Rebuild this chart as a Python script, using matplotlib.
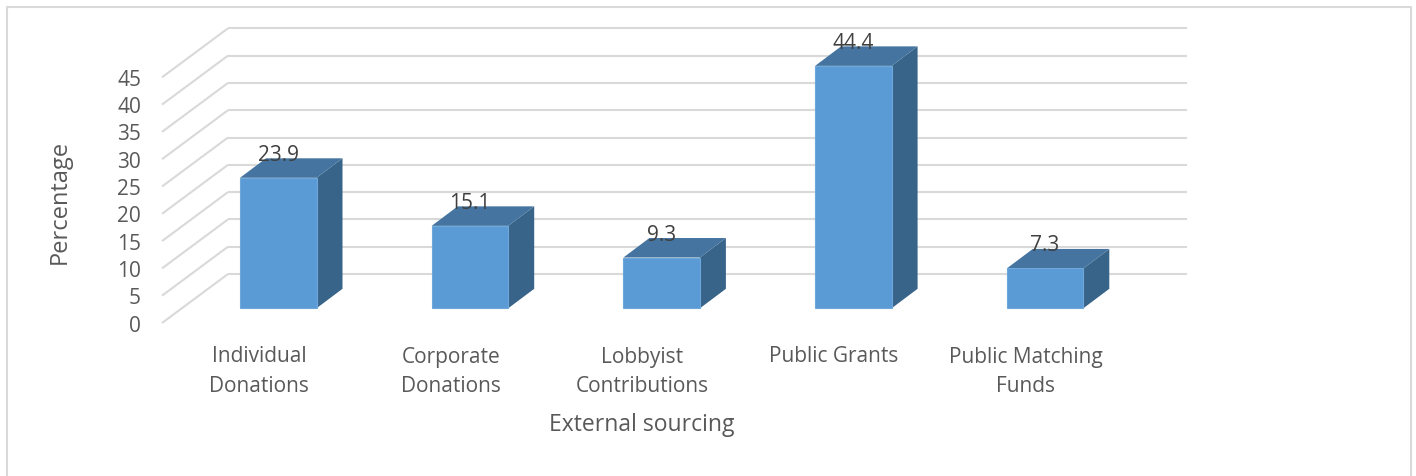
import matplotlib
matplotlib.use('Agg')
import matplotlib.pyplot as plt
from matplotlib.patches import Polygon

categories = ['Individual\nDonations', 'Corporate\nDonations', 'Lobbyist\nContributions',
              'Public Grants', 'Public Matching\nFunds']
percentages = [23.9, 15.1, 9.3, 44.4, 7.3]
value_ticks = [0, 5, 10, 15, 20, 25, 30, 35, 40, 45]
x_title = 'External sourcing'
y_title = 'Percentage'

plt.rcParams['font.family'] = ['Open Sans', 'DejaVu Sans']

# everything is laid out in canvas pixels, so the 3D look can be projected by hand
W, H = 1416, 476
GRID = '#d9d9d9'
TICK_TXT = '#595959'
LABEL_TXT = '#404040'
FRONT = '#5b9bd5'
FRONT_EDGE = '#6ea7da'
TOP = '#44749f'
SIDE = '#38648a'

PX_PER_UNIT = 5.46
WALL_DX, WALL_DY = 66, -49
FLOOR_X, FLOOR_Y = 162, 323
WALL_RIGHT = 1187
BAR_LEFT, BAR_STEP, BAR_W = 240, 191.7, 76.5
BAR_BASE = 308.3
DEPTH_DX, DEPTH_DY = 26, -19.5


def axis_y(value):
    return FLOOR_Y - value * PX_PER_UNIT


def draw_walls(ax):
    for v in value_ticks:
        y = axis_y(v)
        ax.plot([FLOOR_X, FLOOR_X + WALL_DX], [y, y + WALL_DY], color=GRID, lw=1.5, zorder=1,
                solid_capstyle='butt')
        ax.plot([FLOOR_X + WALL_DX, WALL_RIGHT], [y + WALL_DY, y + WALL_DY], color=GRID, lw=1.5,
                zorder=1, solid_capstyle='butt')
        ax.text(141, y + 3, str(v), ha='right', va='center', fontsize=15, color=TICK_TXT)


def draw_bar(ax, i, value):
    x0 = BAR_LEFT + i * BAR_STEP
    x1 = x0 + BAR_W
    top = BAR_BASE - value * PX_PER_UNIT
    side_pts = [(x1, BAR_BASE), (x1 + DEPTH_DX, BAR_BASE + DEPTH_DY),
                (x1 + DEPTH_DX, top + DEPTH_DY), (x1, top)]
    top_pts = [(x0, top), (x0 + DEPTH_DX, top + DEPTH_DY),
               (x1 + DEPTH_DX, top + DEPTH_DY), (x1, top)]
    front_pts = [(x0, BAR_BASE), (x0, top), (x1, top), (x1, BAR_BASE)]
    ax.add_patch(Polygon(side_pts, closed=True, fc=SIDE, ec='none', zorder=2))
    ax.add_patch(Polygon(top_pts, closed=True, fc=TOP, ec='none', zorder=2))
    ax.add_patch(Polygon(front_pts, closed=True, fc=FRONT, ec=FRONT_EDGE, lw=0.8, zorder=3))
    ax.text((x0 + x1) / 2, top - 22.5, f'{value:.1f}', ha='center', va='center',
            fontsize=15, color=LABEL_TXT, zorder=5)


fig = plt.figure(figsize=(W / 100, H / 100), dpi=100, facecolor='white')
ax = fig.add_axes([0, 0, 1, 1])
ax.set_xlim(0, W)
ax.set_ylim(H, 0)
ax.axis('off')

# chart frame runs off the bottom of the canvas
ax.plot([7, 7, 1411, 1411], [H, 7, 7, H], color=GRID, lw=1.5, zorder=1)

draw_walls(ax)
for i, value in enumerate(percentages):
    draw_bar(ax, i, value)

# two-line category labels sit under the floor
for i, name in enumerate(categories):
    cx = BAR_LEFT + i * BAR_STEP + 19
    ax.text(cx, 346.5, name, ha='center', va='top', fontsize=15, color=TICK_TXT, linespacing=1.55)

ax.text(642, 425, x_title, ha='center', va='center', fontsize=16.5, color=TICK_TXT)
ax.text(60, 202, y_title, ha='center', va='center', rotation=90, fontsize=17, color=TICK_TXT)

plt.savefig('out.png', dpi=100)
